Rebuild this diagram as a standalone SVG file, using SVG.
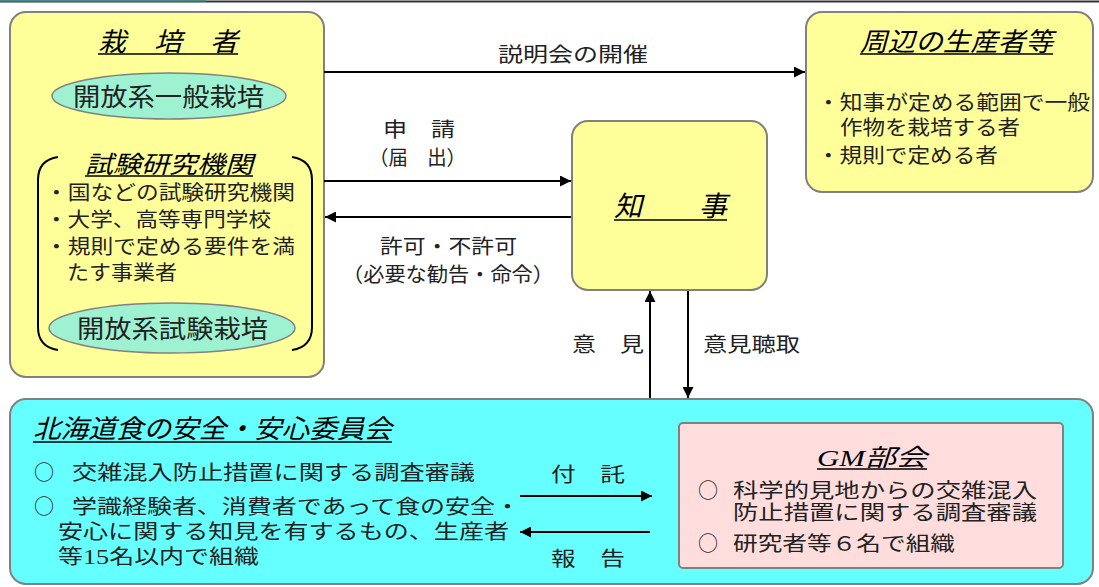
<svg xmlns="http://www.w3.org/2000/svg" width="1099" height="587" viewBox="0 0 1099 587">
<style>
.box{fill:#FFFF99;stroke:#808080;stroke-width:2}
.cyan{fill:#66FFFF;stroke:#808080;stroke-width:2}
.pink{fill:#FFDDDD;stroke:#808080;stroke-width:2}
.ell{fill:#9EF2D2;stroke:#808080;stroke-width:1.5}
.t{font-family:"Noto Sans CJK JP","Noto Sans",sans-serif;fill:#222}
.f20{font-size:20px}
.f25{font-size:25px}
.ti{font-family:"Liberation Serif","Noto Sans CJK JP",serif;fill:#000;font-style:italic}
.ul{stroke:#000;stroke-width:1.5}
.conn{stroke:#000;stroke-width:2;fill:none}
.br{stroke:#000;stroke-width:2;fill:none}
</style>
<defs>
<marker id="arr" viewBox="0 0 10 10" refX="10" refY="5" markerWidth="13" markerHeight="11" markerUnits="userSpaceOnUse" orient="auto">
<path d="M0,0 L10,5 L0,10 z" fill="#000"/>
</marker>
</defs>
<rect width="1099" height="587" fill="#fff"/>
<line x1="0" y1="1.5" x2="1099" y2="1.5" stroke="#333" stroke-width="2"/>
<line x1="0" y1="1" x2="206" y2="1" stroke="#2a8a8a" stroke-width="1.5"/>

<g id="saibaisha">
<rect class="box" x="10" y="12" width="314" height="365" rx="16"/>
<text class="ti" x="98" y="51" font-size="26" textLength="140" lengthAdjust="spacingAndGlyphs">栽　培　者</text>
<line class="ul" x1="98" y1="54" x2="238" y2="54"/>
<ellipse class="ell" cx="169" cy="96" rx="117" ry="23"/>
<text class="t f25" x="73" y="106" textLength="191" lengthAdjust="spacingAndGlyphs">開放系一般栽培</text>
<path class="br" d="M58,157 Q38,160 38,180 V327 Q38,347 58,350"/>
<path class="br" d="M292,157 Q312,160 312,180 V327 Q312,347 292,350"/>
<text class="ti" x="85" y="173" font-size="24" textLength="168" lengthAdjust="spacingAndGlyphs">試験研究機関</text>
<line class="ul" x1="85" y1="176" x2="253" y2="176"/>
<text class="t f20" x="45" y="200" textLength="250" lengthAdjust="spacingAndGlyphs">・国などの試験研究機関</text>
<text class="t f20" x="45" y="227" textLength="226" lengthAdjust="spacingAndGlyphs">・大学、高等専門学校</text>
<text class="t f20" x="45" y="254" textLength="250" lengthAdjust="spacingAndGlyphs">・規則で定める要件を満</text>
<text class="t f20" x="67" y="280" textLength="110" lengthAdjust="spacingAndGlyphs">たす事業者</text>
<ellipse class="ell" cx="172" cy="328" rx="123" ry="25"/>
<text class="t f25" x="77" y="338" textLength="191" lengthAdjust="spacingAndGlyphs">開放系試験栽培</text>
</g>

<g id="shuhen">
<rect class="box" x="806" y="12" width="287" height="180" rx="16"/>
<text class="ti" x="860" y="51" font-size="26" textLength="193" lengthAdjust="spacingAndGlyphs">周辺の生産者等</text>
<line class="ul" x1="860" y1="54" x2="1053" y2="54"/>
<text class="t f20" x="817" y="110" textLength="273" lengthAdjust="spacingAndGlyphs">・知事が定める範囲で一般</text>
<text class="t f20" x="840" y="135" textLength="180" lengthAdjust="spacingAndGlyphs">作物を栽培する者</text>
<text class="t f20" x="817" y="163" textLength="181" lengthAdjust="spacingAndGlyphs">・規則で定める者</text>
</g>

<g id="chiji">
<rect class="box" x="572" y="121" width="195" height="169" rx="16"/>
<text class="ti" x="614" y="216" font-size="28" textLength="113" lengthAdjust="spacingAndGlyphs">知　　事</text>
<line class="ul" x1="614" y1="220" x2="727" y2="220"/>
</g>

<g id="iinkai">
<rect class="cyan" x="10" y="399" width="1083" height="185" rx="16"/>
<text class="ti" x="33" y="438" font-size="26" textLength="359" lengthAdjust="spacingAndGlyphs">北海道食の安全・安心委員会</text>
<line class="ul" x1="33" y1="442" x2="392" y2="442"/>
<text class="t f20" x="34" y="480">○</text>
<text class="t f20" x="72" y="480" textLength="403" lengthAdjust="spacingAndGlyphs">交雑混入防止措置に関する調査審議</text>
<text class="t f20" x="34" y="514">○</text>
<text class="t f20" x="72" y="514" textLength="448" lengthAdjust="spacingAndGlyphs">学識経験者、消費者であって食の安全・</text>
<text class="t f20" x="58" y="539" textLength="451" lengthAdjust="spacingAndGlyphs">安心に関する知見を有するもの、生産者</text>
<text class="t f20" x="58" y="564" textLength="201" lengthAdjust="spacingAndGlyphs">等<tspan font-family="Liberation Serif" font-size="21">15</tspan>名以内で組織</text>
</g>

<g id="gm">
<rect class="pink" x="679" y="423" width="384" height="145" rx="4"/>
<text class="ti" x="817" y="466" font-size="24" textLength="110" lengthAdjust="spacingAndGlyphs">GM部会</text>
<line class="ul" x1="817" y1="469" x2="927" y2="469"/>
<text class="t f20" x="698" y="498">○</text>
<text class="t f20" x="733" y="498" textLength="304" lengthAdjust="spacingAndGlyphs">科学的見地からの交雑混入</text>
<text class="t f20" x="733" y="520" textLength="304" lengthAdjust="spacingAndGlyphs">防止措置に関する調査審議</text>
<text class="t f20" x="698" y="551">○</text>
<text class="t f20" x="733" y="551" textLength="222" lengthAdjust="spacingAndGlyphs">研究者等６名で組織</text>
</g>

<g id="connectors">
<path class="conn" d="M324,72 H805" marker-end="url(#arr)"/>
<text class="t f20" x="498" y="62" textLength="150" lengthAdjust="spacingAndGlyphs">説明会の開催</text>
<path class="conn" d="M324,181 H571" marker-end="url(#arr)"/>
<text class="t f20" x="383" y="137" textLength="72" lengthAdjust="spacingAndGlyphs">申　請</text>
<text class="t f20" x="369" y="165" textLength="97" lengthAdjust="spacingAndGlyphs">（届　出）</text>
<path class="conn" d="M571,217 H325" marker-end="url(#arr)"/>
<text class="t f20" x="380" y="254" textLength="137" lengthAdjust="spacingAndGlyphs">許可・不許可</text>
<text class="t f20" x="342" y="282" textLength="212" lengthAdjust="spacingAndGlyphs">（必要な勧告・命令）</text>
<path class="conn" d="M650,398 V291" marker-end="url(#arr)"/>
<text class="t f20" x="572" y="352" textLength="72" lengthAdjust="spacingAndGlyphs">意　見</text>
<path class="conn" d="M688,291 V398" marker-end="url(#arr)"/>
<text class="t f20" x="703" y="352" textLength="97" lengthAdjust="spacingAndGlyphs">意見聴取</text>
<path class="conn" d="M520,496 H652" marker-end="url(#arr)"/>
<text class="t f20" x="551" y="482" textLength="74" lengthAdjust="spacingAndGlyphs">付　託</text>
<path class="conn" d="M650,532 H520" marker-end="url(#arr)"/>
<text class="t f20" x="551" y="566" textLength="74" lengthAdjust="spacingAndGlyphs">報　告</text>
</g>
</svg>
